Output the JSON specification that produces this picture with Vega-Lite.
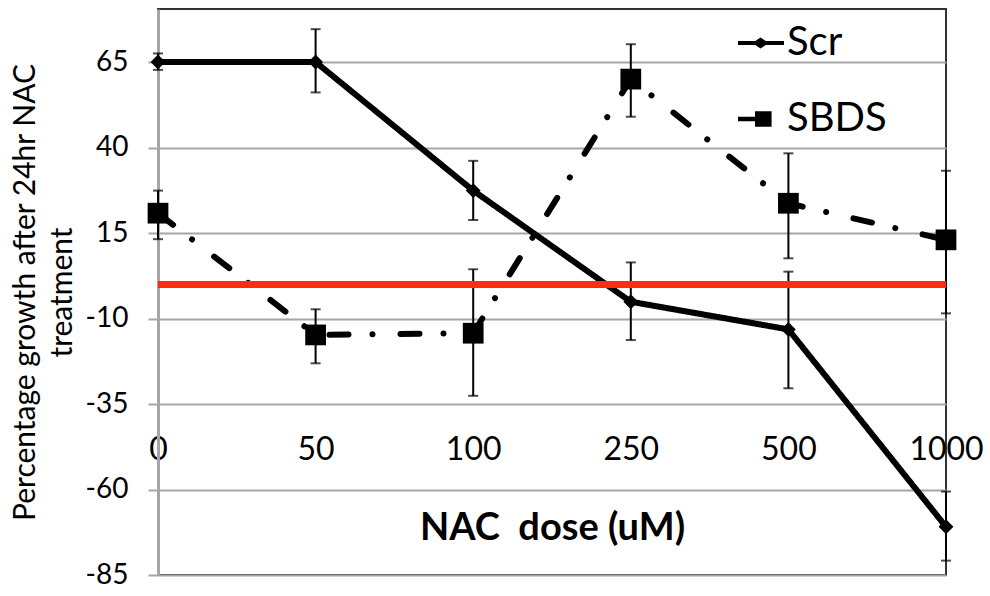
{
  "$schema": "https://vega.github.io/schema/vega-lite/v6.json",
  "width": 788,
  "height": 566,
  "autosize": "none",
  "padding": {"left": 158, "top": 9, "right": 44, "bottom": 21},
  "background": "white",
  "config": {"font": "Lato", "view": {"stroke": "#333333", "strokeWidth": 2}},
  "data": {
    "values": [
      {"dose": "0", "series": "Scr", "value": 65, "lo": 62.7, "hi": 67.5},
      {"dose": "50", "series": "Scr", "value": 65, "lo": 56.1, "hi": 74.6},
      {"dose": "100", "series": "Scr", "value": 27.4, "lo": 18.8, "hi": 36.1},
      {"dose": "250", "series": "Scr", "value": -5.1, "lo": -16.3, "hi": 6.4},
      {"dose": "500", "series": "Scr", "value": -13.2, "lo": -30.4, "hi": 3.7},
      {"dose": "1000", "series": "Scr", "value": -70.9, "lo": -80.8, "hi": -60.6},
      {"dose": "0", "series": "SBDS", "value": 20.8, "lo": 13.2, "hi": 27.4},
      {"dose": "50", "series": "SBDS", "value": -14.8, "lo": -23.1, "hi": -7.3},
      {"dose": "100", "series": "SBDS", "value": -14.3, "lo": -32.6, "hi": 4.4},
      {"dose": "250", "series": "SBDS", "value": 60, "lo": 49, "hi": 70.2},
      {"dose": "500", "series": "SBDS", "value": 23.7, "lo": 7.6, "hi": 38.3},
      {"dose": "1000", "series": "SBDS", "value": 13, "lo": -8.5, "hi": 33.2}
    ]
  },
  "layer": [
    {
      "mark": {"type": "line", "color": "black", "strokeWidth": 6, "strokeCap": "round"},
      "encoding": {
        "x": {
          "field": "dose",
          "type": "ordinal",
          "sort": ["0", "50", "100", "250", "500", "1000"],
          "scale": {"type": "point", "padding": 0},
          "axis": {
            "title": "NAC\u00a0 dose (uM)",
            "offset": -141,
            "domain": false,
            "ticks": false,
            "grid": false,
            "labelAngle": 0,
            "labelFontSize": 32,
            "labelPadding": 0,
            "labelColor": "black",
            "labelOverlap": false,
            "labelBound": false,
            "titleFontSize": 38,
            "titleFontWeight": "bold",
            "titlePadding": 44,
            "titleColor": "black"
          }
        },
        "y": {
          "field": "value",
          "type": "quantitative",
          "scale": {"domain": [-85, 80.5], "nice": false, "zero": false},
          "axis": {
            "title": ["Percentage growth after 24hr NAC", "treatment"],
            "values": [-85, -60, -35, -10, 15, 40, 65],
            "labelExpr": "'' + datum.value",
            "grid": true,
            "gridColor": "#a6a6a6",
            "gridWidth": 2,
            "domainColor": "#a6a6a6",
            "domainWidth": 3,
            "tickColor": "#a6a6a6",
            "tickWidth": 2,
            "tickSize": 10,
            "labelFontSize": 28,
            "labelPadding": 20,
            "labelColor": "black",
            "titleFontSize": 30,
            "titleFontWeight": "normal",
            "titleLineHeight": 37,
            "titlePadding": 8,
            "titleColor": "black"
          }
        },
        "strokeDash": {
          "field": "series",
          "type": "nominal",
          "scale": {"domain": ["Scr", "SBDS"], "range": [[1, 0], [19, 24, 0.01, 28]]},
          "legend": null
        },
        "detail": {"field": "series"}
      }
    },
    {
      "mark": {"type": "rule", "color": "black", "strokeWidth": 2},
      "encoding": {
        "x": {"field": "dose", "type": "ordinal", "sort": ["0", "50", "100", "250", "500", "1000"]},
        "y": {"field": "lo", "type": "quantitative"},
        "y2": {"field": "hi"}
      }
    },
    {
      "mark": {"type": "tick", "color": "black", "thickness": 2, "size": 10},
      "encoding": {
        "x": {"field": "dose", "type": "ordinal", "sort": ["0", "50", "100", "250", "500", "1000"]},
        "y": {"field": "lo", "type": "quantitative"}
      }
    },
    {
      "mark": {"type": "tick", "color": "black", "thickness": 2, "size": 10},
      "encoding": {
        "x": {"field": "dose", "type": "ordinal", "sort": ["0", "50", "100", "250", "500", "1000"]},
        "y": {"field": "hi", "type": "quantitative"}
      }
    },
    {
      "mark": {"type": "point", "filled": true, "color": "black", "opacity": 1},
      "encoding": {
        "x": {"field": "dose", "type": "ordinal", "sort": ["0", "50", "100", "250", "500", "1000"]},
        "y": {"field": "value", "type": "quantitative"},
        "shape": {
          "field": "series",
          "type": "nominal",
          "scale": {"domain": ["Scr", "SBDS"], "range": ["diamond", "square"]},
          "legend": null
        },
        "size": {
          "field": "series",
          "type": "nominal",
          "scale": {"domain": ["Scr", "SBDS"], "range": [220, 430]},
          "legend": null
        }
      }
    },
    {
      "mark": {"type": "point", "filled": true, "color": "black", "opacity": 0},
      "encoding": {
        "x": {"field": "dose", "type": "ordinal", "sort": ["0", "50", "100", "250", "500", "1000"]},
        "y": {"field": "value", "type": "quantitative"},
        "shape": {
          "field": "series",
          "type": "nominal",
          "scale": {
            "domain": ["Scr", "SBDS"],
            "range": [
              "M-1,-0.09L1,-0.09L1,0.09L-1,0.09Z M-0.02,-0.24L0.34,0L-0.02,0.24L-0.38,0Z",
              "M-1,-0.1L-0.2,-0.1L-0.2,0.1L-1,0.1Z M-0.26,-0.34L0.46,-0.34L0.46,0.34L-0.26,0.34Z"
            ]
          },
          "legend": {
            "orient": "none",
            "legendX": 580,
            "legendY": 11,
            "title": null,
            "labelFontSize": 40,
            "labelColor": "black",
            "symbolSize": 2116,
            "symbolFillColor": "black",
            "symbolStrokeColor": "black",
            "symbolStrokeWidth": 0,
            "symbolOpacity": 1,
            "rowPadding": 33,
            "labelOffset": 3
          }
        }
      }
    },
    {
      "mark": {"type": "rule", "color": "#ff2d0d", "strokeWidth": 6.5},
      "encoding": {
        "y": {"datum": 0, "type": "quantitative"}
      }
    }
  ],
  "resolve": {"scale": {"shape": "independent"}, "legend": {"shape": "independent"}}
}
